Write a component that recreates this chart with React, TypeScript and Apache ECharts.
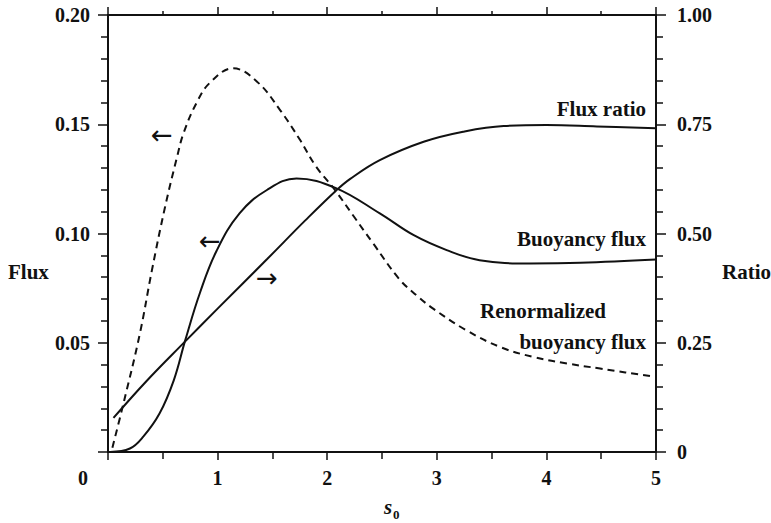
import React, { useEffect, useRef } from "react";
import * as echarts from "echarts";

// Renormalized buoyancy flux (dashed, left axis)
const renormS0 = [0.04, 0.14, 0.29, 0.40, 0.52, 0.63, 0.69, 0.81, 0.93, 1.14, 1.36, 1.57, 1.75, 1.90, 2.06, 2.24, 2.42, 2.66, 2.82, 2.97, 3.27, 3.58, 3.88, 4.19, 4.49, 4.95, 5.0];
const renormFlux = [0.002, 0.022, 0.054, 0.083, 0.112, 0.135, 0.146, 0.160, 0.169, 0.1756, 0.1695, 0.1565, 0.143, 0.1305, 0.1206, 0.108, 0.0954, 0.079, 0.0715, 0.0655, 0.0557, 0.048, 0.0435, 0.0405, 0.0382, 0.0347, 0.0345];

// Buoyancy flux (solid, left axis)
const buoyS0 = [0.02, 0.2, 0.32, 0.47, 0.6, 0.705, 0.84, 0.99, 1.2, 1.45, 1.72, 2.08, 2.48, 2.79, 3.09, 3.39, 3.85, 4.31, 5.0];
const buoyFlux = [0.0, 0.0016, 0.0069, 0.0176, 0.0328, 0.0512, 0.073, 0.092, 0.1092, 0.1199, 0.1252, 0.1208, 0.1092, 0.0992, 0.0924, 0.0878, 0.0863, 0.0866, 0.0881];

// Flux ratio (solid, right axis)
const ratioS0 = [0.05, 0.35, 0.70, 1.0, 1.45, 1.8, 2.08, 2.21, 2.48, 2.88, 3.24, 3.61, 4.0, 4.46, 5.0];
const ratioVals = [0.078, 0.162, 0.252, 0.328, 0.441, 0.530, 0.598, 0.625, 0.668, 0.71, 0.733, 0.746, 0.748, 0.745, 0.741];

// Axis ranges and tick steps
const s0Ticks = [0, 1, 2, 3, 4, 5];
const fluxTicks = [0, 0.05, 0.1, 0.15, 0.2];
const ratioTicks = [0, 0.25, 0.5, 0.75, 1.0];

const SERIF = "'Liberation Serif', 'Times New Roman', serif";

const zip = (xs: number[], ys: number[]) => xs.map((x, i) => [x, ys[i]]);

export default function App() {
  const ref = useRef<HTMLDivElement>(null);

  useEffect(() => {
    if (!ref.current) return;
    const chart = echarts.init(ref.current, null, { renderer: "svg" });
    const black = "#111";
    const axisLine = { show: true, onZero: false, lineStyle: { color: black, width: 2 } };
    const tickLabel = { color: black, fontFamily: SERIF, fontSize: 20, fontWeight: "bold" };
    const label = (text: string, x: number, y: number, align: string) => ({
      type: "text",
      x,
      y,
      style: { text, fill: black, font: `bold 21px ${SERIF}`, textAlign: align, textVerticalAlign: "middle" },
    });
    const arrow = (text: string, x: number, y: number) => ({
      type: "text",
      x,
      y,
      style: { text, fill: black, font: `26px 'DejaVu Sans'`, textAlign: "center", textVerticalAlign: "middle" },
    });

    chart.setOption({
      animation: false,
      backgroundColor: "#fff",
      grid: { left: 108, right: 115, top: 15, bottom: 71 },
      xAxis: [
        {
          type: "value",
          position: "bottom",
          min: s0Ticks[0],
          max: s0Ticks[s0Ticks.length - 1],
          interval: 1,
          axisLine,
          axisTick: { show: true, length: 8, lineStyle: { color: black, width: 1.5 } },
          minorTick: { show: true, splitNumber: 2, length: 7, lineStyle: { color: black, width: 1.5 } },
          splitLine: { show: false },
          axisLabel: {
            ...tickLabel,
            margin: 16,
            formatter: (v: number) => (v === 0 ? "{o|0}" : String(v)),
            rich: { o: { ...tickLabel, padding: [0, 50, 0, 0] } },
          },
        },
        {
          type: "value",
          position: "top",
          min: s0Ticks[0],
          max: s0Ticks[s0Ticks.length - 1],
          interval: 1,
          axisLine,
          axisTick: { show: true, length: 8, lineStyle: { color: black, width: 1.5 } },
          minorTick: { show: true, splitNumber: 2, length: 4, lineStyle: { color: black, width: 1.5 } },
          splitLine: { show: false },
          axisLabel: { show: false },
        },
      ],
      yAxis: [
        {
          type: "value",
          position: "left",
          min: fluxTicks[0],
          max: fluxTicks[fluxTicks.length - 1],
          interval: 0.05,
          axisLine,
          axisTick: { show: true, length: 10, lineStyle: { color: black, width: 1.5 } },
          minorTick: { show: true, splitNumber: 5, length: 7, lineStyle: { color: black, width: 1.5 } },
          splitLine: { show: false },
          axisLabel: {
            ...tickLabel,
            margin: 18,
            formatter: (v: number) => (v === 0 ? "" : v.toFixed(2)),
          },
        },
        {
          type: "value",
          position: "right",
          min: ratioTicks[0],
          max: ratioTicks[ratioTicks.length - 1],
          interval: 0.25,
          axisLine,
          axisTick: { show: true, length: 10, lineStyle: { color: black, width: 1.5 } },
          minorTick: { show: true, splitNumber: 5, length: 7, lineStyle: { color: black, width: 1.5 } },
          splitLine: { show: false },
          axisLabel: {
            ...tickLabel,
            margin: 21,
            formatter: (v: number) => (v === 0 ? "0" : v.toFixed(2)),
          },
        },
      ],
      series: [
        {
          name: "Renormalized buoyancy flux",
          type: "line",
          xAxisIndex: 0,
          yAxisIndex: 0,
          data: zip(renormS0, renormFlux),
          smooth: 0.4,
          symbol: "none",
          lineStyle: { color: black, width: 2, type: [7, 5] },
        },
        {
          name: "Buoyancy flux",
          type: "line",
          xAxisIndex: 0,
          yAxisIndex: 0,
          data: zip(buoyS0, buoyFlux),
          smooth: 0.4,
          symbol: "none",
          lineStyle: { color: black, width: 2 },
        },
        {
          name: "Flux ratio",
          type: "line",
          xAxisIndex: 0,
          yAxisIndex: 1,
          data: zip(ratioS0, ratioVals),
          smooth: 0.4,
          symbol: "none",
          lineStyle: { color: black, width: 2 },
        },
      ],
      graphic: [
        label("Flux ratio", 646, 109, "right"),
        label("Buoyancy flux", 646, 239, "right"),
        label("Renormalized", 480, 311, "left"),
        label("buoyancy flux", 646, 342, "right"),
        arrow("←", 162, 135),
        arrow("←", 210, 241),
        arrow("→", 267, 278),
        label("Flux", 8, 272, "left"),
        label("Ratio", 722, 272, "left"),
        { type: "text", x: 384, y: 507, style: { text: "s", fill: black, font: `italic bold 21px ${SERIF}`, textAlign: "left", textVerticalAlign: "middle" } },
        { type: "text", x: 393, y: 514, style: { text: "0", fill: black, font: `bold 13px ${SERIF}`, textAlign: "left", textVerticalAlign: "middle" } },
      ],
    });

    return () => chart.dispose();
  }, []);

  return (
    <div
      ref={ref}
      style={{ position: "fixed", left: 0, top: 0, width: 771, height: 523, background: "#fff" }}
    />
  );
}
